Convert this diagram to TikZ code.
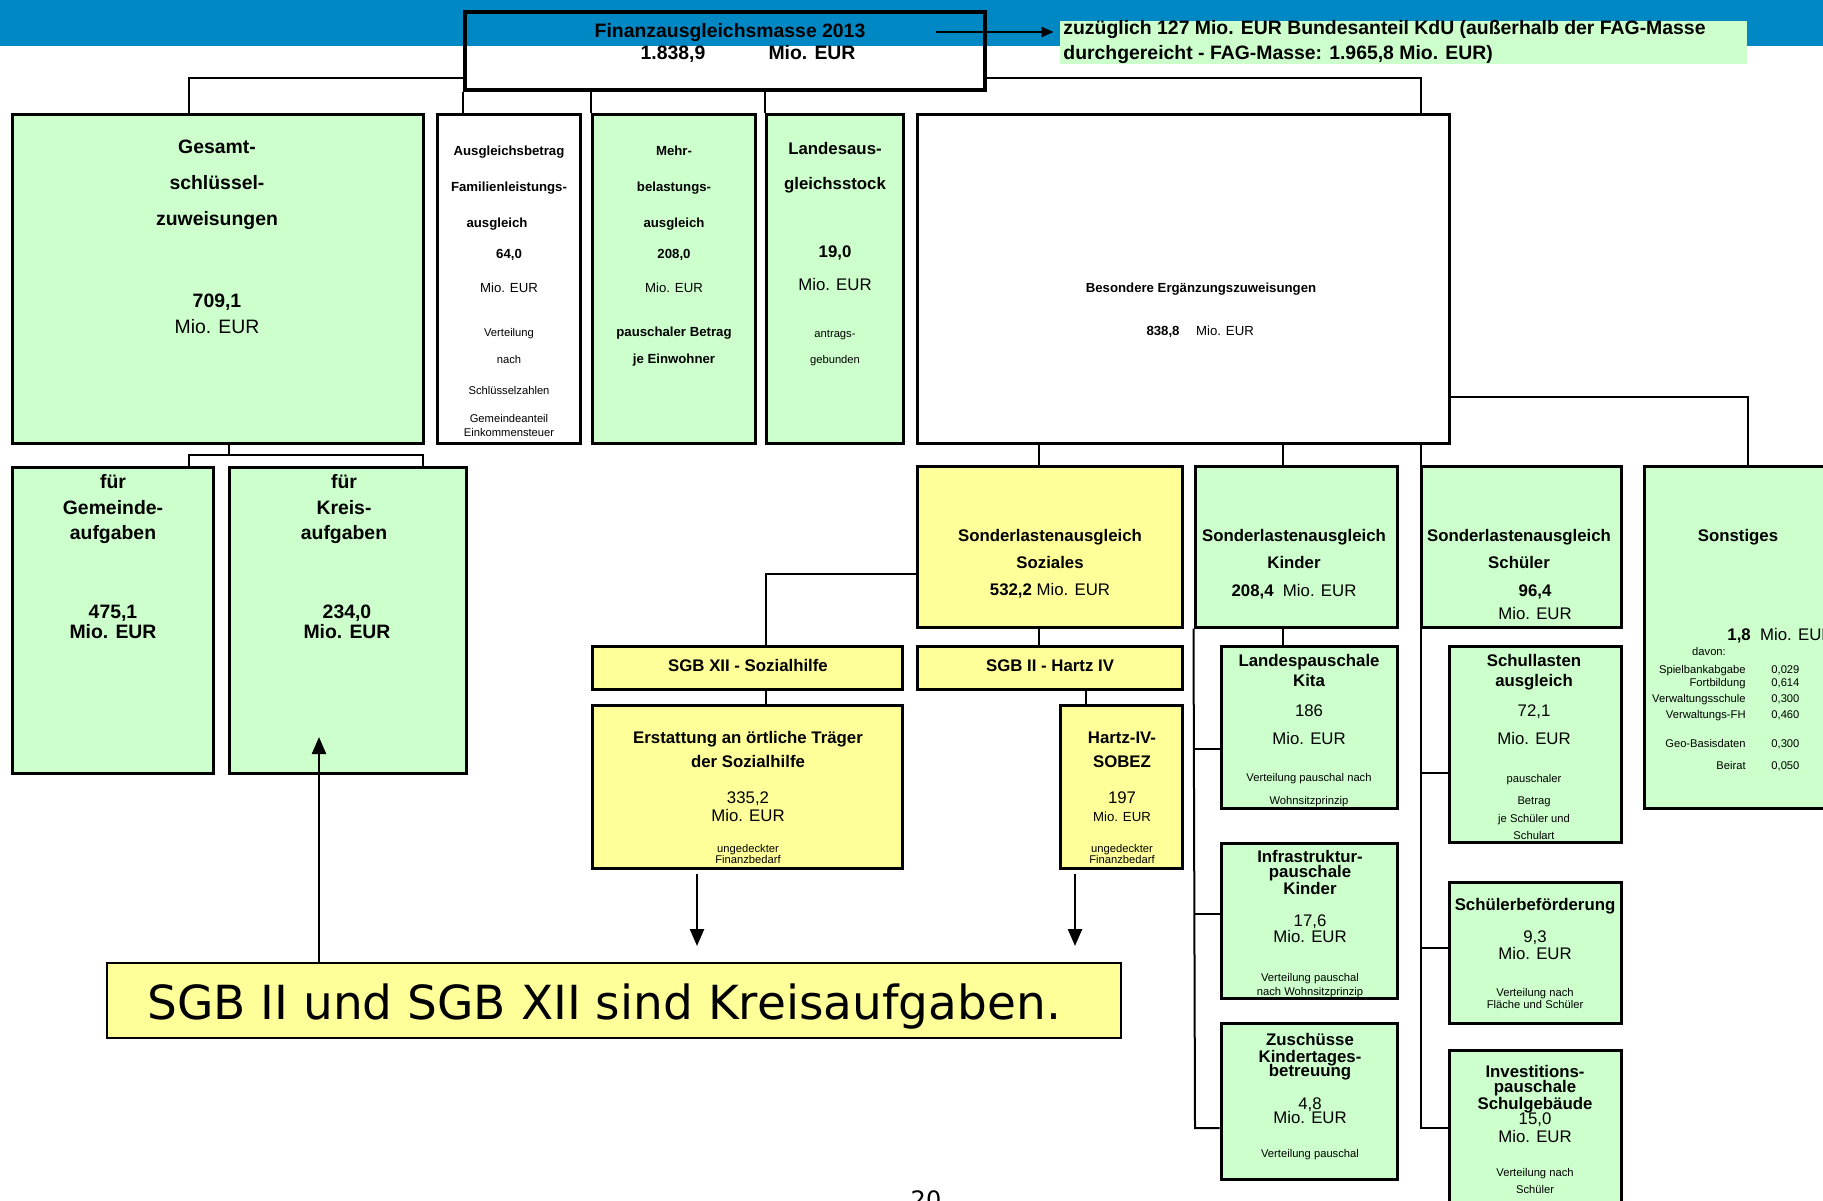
\documentclass[tikz,border=0pt]{standalone}
\usepackage{fontspec}
\setmainfont{Liberation Sans}
\newfontfamily\notefont{DejaVu Sans}
\usetikzlibrary{fit,arrows.meta}
\definecolor{fagGreen}{HTML}{CCFFCC}
\definecolor{fagYellow}{HTML}{FFFF99}
\definecolor{fagBlue}{HTML}{0088C4}

\tikzset{
  box/.style={draw, line width=1.5pt, inner sep=0pt},
  gbox/.style={box, fill=fagGreen},
  ybox/.style={box, fill=fagYellow},
  wbox/.style={box, fill=white},
  link/.style={line width=1pt},
  arr/.style={line width=1.2pt, -{Triangle[width=7pt,length=8.5pt]}},
  txt/.style={inner sep=0pt, anchor=mid},
  hb/.style={txt, font=\fontsize{9.7}{11}\selectfont\bfseries},
  hr/.style={txt, font=\fontsize{9.7}{11}\selectfont},
  mb/.style={txt, font=\fontsize{8.4}{10}\selectfont\bfseries},
  mr/.style={txt, font=\fontsize{8.4}{10}\selectfont},
  sb/.style={txt, font=\fontsize{6.6}{8}\selectfont\bfseries},
  sr/.style={txt, font=\fontsize{6.6}{8}\selectfont},
  xs/.style={txt, font=\fontsize{5.6}{7}\selectfont},
}

\begin{document}
\begin{tikzpicture}[x=0.5pt,y=-0.5pt]
    \useasboundingbox (0,0) rectangle (1823,1200);

    % blue band
    \fill[fagBlue] (0,0) rectangle (1823,46);

    % top box and note
    \node[box, line width=1.7pt, fit={(465,12) (985,90)}] (fag) {};
    \node[hb] (fag1) at (730,32) {Finanzausgleichsmasse 2013};
    \node[hb] (fag2) at (673,54) {1.838,9};
    \node[hb] (fag3) at (812,54) {Mio. EUR};
    \node[fill=fagGreen, inner sep=0pt, fit={(1060,21) (1747,64)}] (kdu) {};
    \node[hb, anchor=mid west] (kdu1) at (1063,29) {zuzüglich 127 Mio. EUR Bundesanteil KdU (außerhalb der FAG-Masse};
    \node[hb, anchor=mid west] (kdu2) at (1063,54) {durchgereicht - FAG-Masse: 1.965,8 Mio. EUR)};

    % first row
    \node[gbox, fit={(12,114) (423,443)}] (gsk) {};
    \node[wbox, fit={(437,114) (580,443)}] (afl) {};
    \node[gbox, fit={(592,114) (755,443)}] (mbl) {};
    \node[gbox, fit={(766,114) (903,443)}] (las) {};
    \node[wbox, fit={(917,114) (1449,443)}] (bez) {};

    \foreach \y/\t in {148/Gesamt-,184/schlüssel-,220/zuweisungen,302/{709,1}}
        \node[hb] (gsk\y) at (217,\y) {\t};
    \node[hr] (gsk328) at (217,328) {Mio. EUR};

    \foreach \y/\t in {150/Ausgleichsbetrag,186/Familienleistungs-,253/{64,0}}
        \node[sb] (afl\y) at (509,\y) {\t};
    \node[sb] (afl222) at (497,222) {ausgleich};
    \node[sr] (afl287) at (509,287) {Mio. EUR};
    \foreach \y/\t in {331/Verteilung,358/nach,389/Schlüsselzahlen,417/Gemeindeanteil,431/Einkommensteuer}
        \node[xs] (afl\y) at (509,\y) {\t};

    \foreach \y/\t in {150/Mehr-,186/belastungs-,222/ausgleich,253/{208,0},331/pauschaler Betrag,358/je Einwohner}
        \node[sb] (mbl\y) at (674,\y) {\t};
    \node[sr] (mbl287) at (674,287) {Mio. EUR};

    \foreach \y/\t in {149/Landesaus-,184/gleichsstock,252/{19,0}}
        \node[mb] (las\y) at (835,\y) {\t};
    \node[mr] (las285) at (835,285) {Mio. EUR};
    \node[xs] (las332) at (835,332) {antrags-};
    \node[xs] (las358) at (835,358) {gebunden};

    \node[sb] (bez1) at (1201,287) {Besondere Ergänzungszuweisungen};
    \node[sb] (bez2) at (1163,330) {838,8};
    \node[sr] (bez3) at (1225,330) {Mio. EUR};

    % Gemeinde- and Kreisaufgaben
    \node[gbox, fit={(12,467) (213,773)}] (gfa) {};
    \node[gbox, fit={(229,467) (466,773)}] (kfa) {};
    \foreach \y/\t in {483/für,509/Gemeinde-,534/aufgaben,613/{475,1},633/Mio. EUR}
        \node[hb] (gfa\y) at (113,\y) {\t};
    \foreach \y/\t in {483/für,509/Kreis-,534/aufgaben}
        \node[hb] (kfa\y) at (344,\y) {\t};
    \node[hb] (kfa613) at (347,613) {234,0};
    \node[hb] (kfa633) at (347,633) {Mio. EUR};

    % Soziales
    \node[ybox, fit={(917,466) (1182,627)}] (soz) {};
    \node[mb] (soz1) at (1050,536) {Sonderlastenausgleich};
    \node[mb] (soz2) at (1050,563) {Soziales};
    \node[mr] (soz3) at (1050,590) {\textbf{532,2} Mio. EUR};
    \node[ybox, fit={(592,646) (902,689)}] (sgb12) {};
    \node[mb] (sgb12t) at (748,666) {SGB XII - Sozialhilfe};
    \node[ybox, fit={(917,646) (1182,689)}] (sgb2) {};
    \node[mb] (sgb2t) at (1050,666) {SGB II - Hartz IV};
    \node[ybox, fit={(592,705) (902,868)}] (ers) {};
    \node[mb] (ers1) at (748,738) {Erstattung an örtliche Träger};
    \node[mb] (ers2) at (748,762) {der Sozialhilfe};
    \node[mr] (ers3) at (748,798) {335,2};
    \node[mr] (ers4) at (748,816) {Mio. EUR};
    \node[xs] (ers5) at (748,847) {ungedeckter};
    \node[xs] (ers6) at (748,858) {Finanzbedarf};
    \node[ybox, fit={(1060,705) (1182,868)}] (hsb) {};
    \node[mb] (hsb1) at (1122,738) {Hartz-IV-};
    \node[mb] (hsb2) at (1122,762) {SOBEZ};
    \node[mr] (hsb3) at (1122,798) {197};
    \node[sr] (hsb4) at (1122,816) {Mio. EUR};
    \node[xs] (hsb5) at (1122,847) {ungedeckter};
    \node[xs] (hsb6) at (1122,858) {Finanzbedarf};

    % note at the bottom
    \node[box, line width=1pt, fill=fagYellow, fit={(107,963) (1121,1038)}] (sgbn) {};
    \node[inner sep=0pt, anchor=base, font=\notefont\fontsize{23.5}{28}\selectfont] (sgbn1) at (604,1019) {SGB II und SGB XII sind Kreisaufgaben.};

    % Kinder
    \node[gbox, fit={(1195,466) (1397,627)}] (kin) {};
    \node[mb] (kin1) at (1294,536) {Sonderlastenausgleich};
    \node[mb] (kin2) at (1294,563) {Kinder};
    \node[mr] (kin3) at (1294,591) {\textbf{208,4}\ \ Mio. EUR};
    \node[gbox, fit={(1221,646) (1397,808)}] (lpk) {};
    \node[mb] (lpk1) at (1309,661) {Landespauschale};
    \node[mb] (lpk2) at (1309,681) {Kita};
    \node[mr] (lpk3) at (1309,711) {186};
    \node[mr] (lpk4) at (1309,739) {Mio. EUR};
    \node[xs] (lpk5) at (1309,776) {Verteilung pauschal nach};
    \node[xs] (lpk6) at (1309,799) {Wohnsitzprinzip};
    \node[gbox, fit={(1221,843) (1397,998)}] (inf) {};
    \foreach \y/\t in {857/Infrastruktur-,872/pauschale,889/Kinder}
        \node[mb] (inf\y) at (1310,\y) {\t};
    \node[mr] (inf921) at (1310,921) {17,6};
    \node[mr] (inf937) at (1310,937) {Mio. EUR};
    \node[xs] (inf976) at (1310,976) {Verteilung pauschal};
    \node[xs] (inf990) at (1310,990) {nach Wohnsitzprinzip};
    \node[gbox, fit={(1221,1023) (1397,1179)}] (zus) {};
    \foreach \y/\t in {1040/Zuschüsse,1057/Kindertages-,1071/betreuung}
        \node[mb] (zus\y) at (1310,\y) {\t};
    \node[mr] (zus1104) at (1310,1104) {4,8};
    \node[mr] (zus1118) at (1310,1118) {Mio. EUR};
    \node[xs] (zus1152) at (1310,1152) {Verteilung pauschal};

    % Schueler
    \node[gbox, fit={(1421,466) (1621,627)}] (sch) {};
    \node[mb] (sch1) at (1519,536) {Sonderlastenausgleich};
    \node[mb] (sch2) at (1519,563) {Schüler};
    \node[mb] (sch3) at (1535,591) {96,4};
    \node[mr] (sch4) at (1535,614) {Mio. EUR};
    \node[gbox, fit={(1449,646) (1621,842)}] (sll) {};
    \node[mb] (sll1) at (1534,661) {Schullasten};
    \node[mb] (sll2) at (1534,681) {ausgleich};
    \node[mr] (sll3) at (1534,711) {72,1};
    \node[mr] (sll4) at (1534,739) {Mio. EUR};
    \foreach \y/\t in {777/pauschaler,799/Betrag,817/je Schüler und,834/Schulart}
        \node[xs] (sll\y) at (1534,\y) {\t};
    \node[gbox, fit={(1449,882) (1621,1023)}] (sbf) {};
    \node[mb] (sbf1) at (1535,905) {Schülerbeförderung};
    \node[mr] (sbf2) at (1535,937) {9,3};
    \node[mr] (sbf3) at (1535,954) {Mio. EUR};
    \node[xs] (sbf4) at (1535,991) {Verteilung nach};
    \node[xs] (sbf5) at (1535,1003) {Fläche und Schüler};
    \node[gbox, fit={(1449,1050) (1621,1230)}] (inv) {};
    \foreach \y/\t in {1072/Investitions-,1087/pauschale,1104/Schulgebäude}
        \node[mb] (inv\y) at (1535,\y) {\t};
    \node[mr] (inv1119) at (1535,1119) {15,0};
    \node[mr] (inv1137) at (1535,1137) {Mio. EUR};
    \node[xs] (inv1171) at (1535,1171) {Verteilung nach};
    \node[xs] (inv1188) at (1535,1188) {Schüler};

    % Sonstiges
    \node[gbox, fit={(1644,466) (1860,808)}] (son) {};
    \node[mb] (son1) at (1738,536) {Sonstiges};
    \node[mr, anchor=mid west] (son2) at (1727,635) {\textbf{1,8}\ \ Mio. EUR};
    \node[xs] (son3) at (1709,650) {davon:};
    \foreach \y/\l/\v in {668/Spielbankabgabe/{0,029},681/Fortbildung/{0,614},697/Verwaltungsschule/{0,300},
                          713/Verwaltungs-FH/{0,460},742/Geo-Basisdaten/{0,300},764/Beirat/{0,050}} {
        \node[xs, anchor=mid east] (sonL\y) at (1746,\y) {\l};
        \node[xs, anchor=mid west] (sonV\y) at (1771,\y) {\v};
    }

    % page number
    \node[inner sep=0pt, anchor=base, font=\notefont\fontsize{12}{14}\selectfont] (page) at (926,1208) {20};

    % connectors from the top box
    \coordinate (jL) at (189,78);
    \coordinate (jR) at (1421,78);
    \draw[link] (fag.west |- jL) -- (jL) -- (jL |- gsk.north);
    \draw[link] (fag.east |- jR) -- (jR) -- (jR |- bez.north);
    \draw[link] (fag.south west) -- (fag.south west |- afl.north);
    \draw[link] (mbl.north west |- fag.south) -- (mbl.north west);
    \draw[link] (las.north west |- fag.south) -- (las.north west);
    \coordinate (kduS) at (936,32);
    \draw[link, -{Triangle[width=5pt,length=6pt]}, shorten >=3pt] (kduS) -- (kduS -| kdu.west);

    % Gesamtschluesselzuweisungen
    \coordinate (jG) at (229,455);
    \coordinate (jG1) at (189,455);
    \coordinate (jG2) at (423,455);
    \draw[link] (gsk.south -| jG) -- (jG);
    \draw[link] (jG1 |- gfa.north) -- (jG1) -- (jG2) -- (jG2 |- kfa.north);

    % Besondere Ergaenzungszuweisungen
    \coordinate (xS) at (1039,0);
    \coordinate (xK) at (1283,0);
    \coordinate (jO) at (1748,397);
    \draw[link] (bez.south -| xS) -- (soz.north -| xS);
    \draw[link] (bez.south -| xK) -- (kin.north -| xK);
    \draw[link] (bez.east |- jO) -- (jO) -- (jO |- son.north);

    % Soziales
    \coordinate (jS) at (766,574);
    \coordinate (xH) at (1086,0);
    \draw[link] (soz.west |- jS) -- (jS) -- (jS |- sgb12.north);
    \draw[link] (soz.south -| xS) -- (sgb2.north -| xS);
    \draw[link] (jS |- sgb12.south) -- (jS |- ers.north);
    \draw[link] (sgb2.south -| xH) -- (hsb.north -| xH);

    % Kinder
    \coordinate (kB1) at (1195,749);
    \coordinate (kB2) at (1195,914);
    \coordinate (kT) at (1195,1128);
    \draw[link] (kin.south -| xK) -- (lpk.north -| xK);
    \draw[link] (kin.south west) -- (kT) -- (kT -| zus.west);
    \draw[link] (kB1) -- (kB1 -| lpk.west);
    \draw[link] (kB2) -- (kB2 -| inf.west);

    % Schueler
    \coordinate (sB1) at (1421,773);
    \coordinate (sB2) at (1421,948);
    \coordinate (sT) at (1421,1128);
    \draw[link] (bez.south -| sT) -- (sT) -- (sT -| inv.west);
    \draw[link] (sB1) -- (sB1 -| sll.west);
    \draw[link] (sB2) -- (sB2 -| sbf.west);

    % arrows to and from the note
    \coordinate (xA1) at (697,0);
    \coordinate (xA2) at (1075,0);
    \coordinate (kTip) at (319,737);
    \draw[arr, shorten <=2pt, shorten >=8pt] (ers.south -| xA1) -- (sgbn.north -| xA1);
    \draw[arr, shorten <=2pt, shorten >=8pt] (hsb.south -| xA2) -- (sgbn.north -| xA2);
    \draw[arr] (sgbn.north -| kTip) -- (kTip);
\end{tikzpicture}
\end{document}
